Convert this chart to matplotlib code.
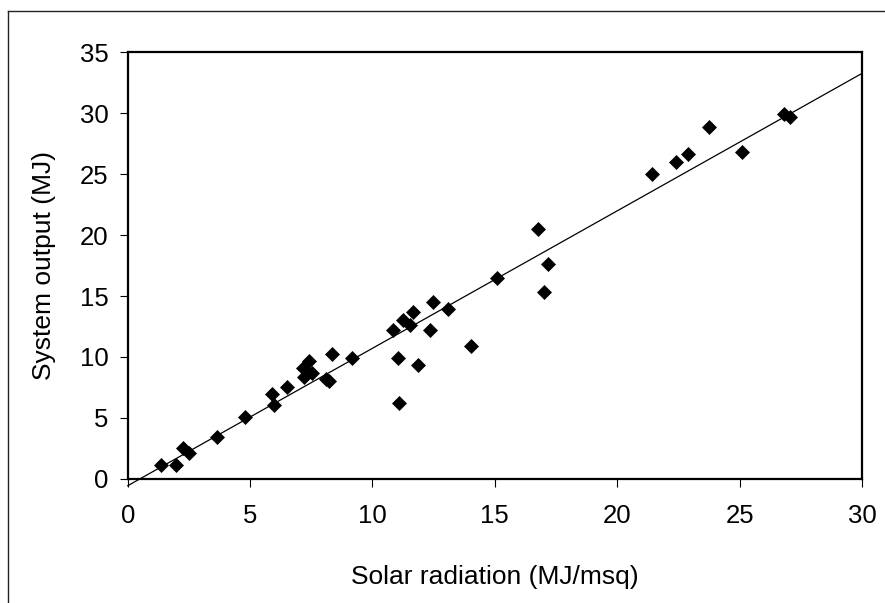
import matplotlib
matplotlib.use("Agg")
import matplotlib.pyplot as plt
from matplotlib.lines import Line2D
import numpy as np

# Data
solar_radiation = [1.37, 1.96, 2.27, 2.50, 3.66, 4.80, 5.88, 5.96, 6.52,
                   7.15, 7.20, 7.42, 7.54, 8.10, 8.24, 8.33, 9.15,
                   10.85, 11.03, 11.09, 11.26, 11.53, 11.67, 11.85, 12.34,
                   12.48, 13.07, 14.04, 15.10, 16.75, 16.99, 17.17,
                   21.41, 22.39, 22.88, 23.76, 25.08, 26.81, 27.07]
system_output = [1.13, 1.13, 2.50, 2.14, 3.45, 5.07, 6.96, 6.03, 7.56,
                 9.06, 8.33, 9.69, 8.70, 8.19, 8.05, 10.21, 9.89,
                 12.21, 9.91, 6.24, 13.03, 12.62, 13.66, 9.36, 12.21,
                 14.48, 13.93, 10.87, 16.45, 20.52, 15.30, 17.60,
                 24.98, 25.96, 26.62, 28.88, 26.78, 29.90, 29.71]

trend_slope = 1.128
trend_intercept = -0.57
trend_x = [0, 30]

x_ticks = [0, 5, 10, 15, 20, 25, 30]
y_ticks = [0, 5, 10, 15, 20, 25, 30, 35]

plt.rcParams['font.family'] = ['Liberation Sans', 'DejaVu Sans']

W, H = 885, 603
fig = plt.figure(figsize=(W / 100, H / 100), dpi=100)
fig.patch.set_facecolor('white')

ax_left, ax_right, ax_top, ax_bottom = 127.7, 862.0, 52.3, 478.8
ax = fig.add_axes([ax_left / W, 1 - ax_bottom / H,
                   (ax_right - ax_left) / W, (ax_bottom - ax_top) / H])

tx = np.array(trend_x, dtype=float)
ax.plot(tx, trend_slope * tx + trend_intercept, color='black', lw=0.9,
        clip_on=False, zorder=2)
ax.plot(solar_radiation, system_output, linestyle='none', marker='D',
        markersize=7.6, color='black', markeredgewidth=0.5, zorder=3)

ax.set_xlim(0, 30)
ax.set_ylim(0, 35)
ax.set_xticks(x_ticks)
ax.set_yticks(y_ticks)
ax.set_xticklabels([str(t) for t in x_ticks])
ax.set_yticklabels([str(t) for t in y_ticks])
ax.tick_params(axis='both', direction='out', length=6, width=0.8,
               colors='black', labelsize=18.5)
ax.tick_params(axis='x', pad=12.5)
ax.tick_params(axis='y', pad=8)
for side in ['left', 'right', 'top', 'bottom']:
    ax.spines[side].set_linewidth(1.6)
    ax.spines[side].set_color('black')

fig.text(494.85 / W, 1 - 577 / H, 'Solar radiation (MJ/msq)', ha='center',
         va='center', fontsize=19)
fig.text(44 / W, 1 - 265.5 / H, 'System output (MJ)', ha='center',
         va='center', rotation=90, fontsize=19)

# outer chart frame (left and top edges visible)
fig.add_artist(Line2D([8 / W, 8 / W], [0, 1 - 11 / H], transform=fig.transFigure,
                      color='#222222', lw=1.0))
fig.add_artist(Line2D([8 / W, 1], [1 - 11 / H, 1 - 11 / H], transform=fig.transFigure,
                      color='#222222', lw=1.0))

fig.savefig('out.png', dpi=100)
